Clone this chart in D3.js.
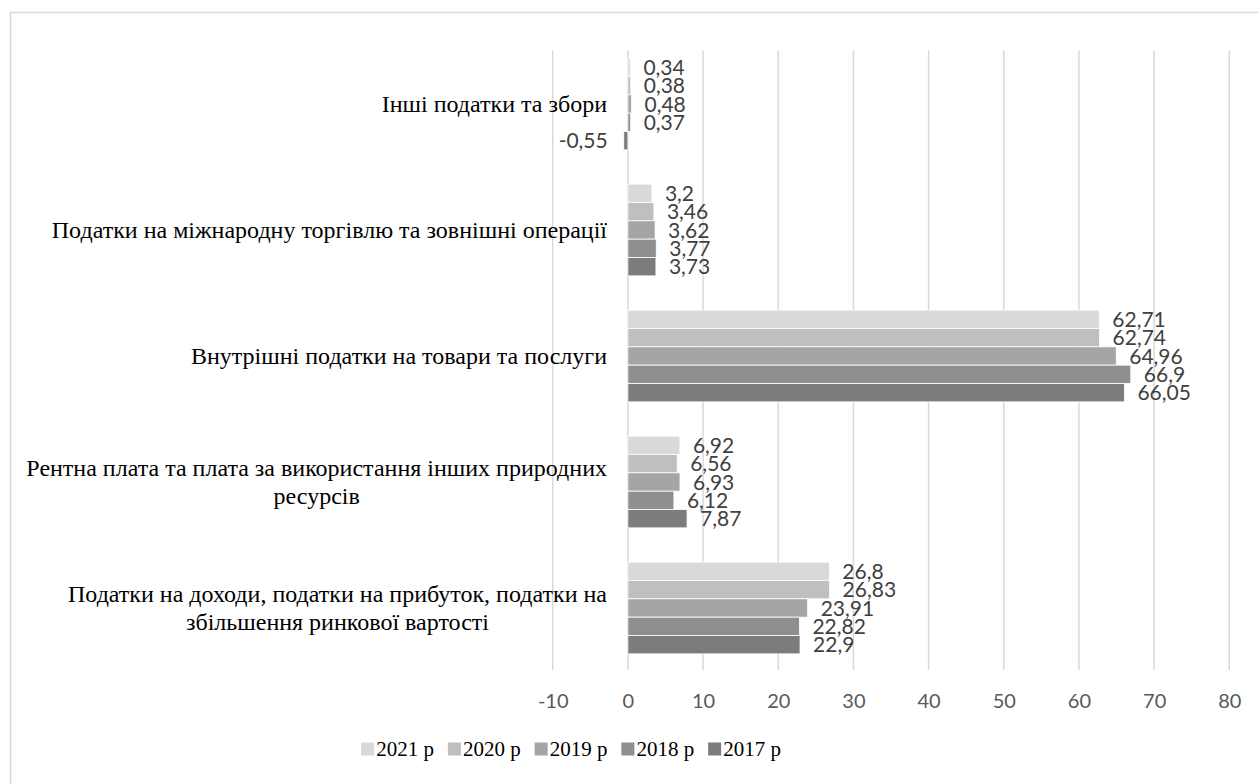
<!DOCTYPE html>
<html>
<head>
<meta charset="utf-8">
<script src="https://cdn.jsdelivr.net/npm/d3@7"></script>
<style>
  html, body { margin: 0; padding: 0; background: #fff; }
  svg { display: block; }
</style>
</head>
<body>
<svg id="chart" width="1258" height="784"></svg>
<script>
// Tax revenue structure, % — categories listed top to bottom
const categories = [
  "Інші податки та збори",
  "Податки на міжнародну торгівлю та зовнішні операції",
  "Внутрішні податки на товари та послуги",
  "Рентна плата та плата за використання інших природних\nресурсів",
  "Податки на доходи, податки на прибуток, податки на\nзбільшення ринкової вартості"
];
const years = ["2021 р", "2020 р", "2019 р", "2018 р", "2017 р"];
const v2021 = [0.34, 3.2, 62.71, 6.92, 26.8];
const v2020 = [0.38, 3.46, 62.74, 6.56, 26.83];
const v2019 = [0.48, 3.62, 64.96, 6.93, 23.91];
const v2018 = [0.37, 3.77, 66.9, 6.12, 22.82];
const v2017 = [-0.55, 3.73, 66.05, 7.87, 22.9];
const xTicks = [-10, 0, 10, 20, 30, 40, 50, 60, 70, 80];

const seriesValues = [v2021, v2020, v2019, v2018, v2017];
const colors = ["#d9d9d9", "#bfbfbf", "#a5a5a5", "#8f8f8f", "#7c7c7c"];

const svg = d3.select("#chart");

// chart frame
svg.append("rect")
  .attr("x", 10.5).attr("y", 12.5)
  .attr("width", 1400).attr("height", 900)
  .attr("fill", "none").attr("stroke", "#d9d9d9").attr("stroke-width", 1.5);

const x = d3.scaleLinear().domain([-10, 80]).range([552.7, 1229.3]);
const y = d3.scaleBand().domain(categories).range([41, 671])
  .paddingInner(0.272).paddingOuter(0.136);
const yInner = d3.scaleBand().domain(years).range([0, y.bandwidth()]);

const gridTop = 50.5, gridBottom = 670;

// vertical gridlines
svg.append("g").selectAll("line")
  .data(xTicks).join("line")
  .attr("x1", d => x(d)).attr("x2", d => x(d))
  .attr("y1", gridTop).attr("y2", gridBottom)
  .attr("stroke", "#d9d9d9").attr("stroke-width", 1.5);

// x axis tick labels
const xAxis = d3.axisBottom(x).tickValues(xTicks).tickSize(0).tickPadding(0)
  .tickFormat(d => String(d));
const gx = svg.append("g").attr("transform", `translate(0, ${gridBottom + 24})`).call(xAxis);
gx.select(".domain").remove();
gx.selectAll("text")
  .attr("font-family", "Lato, 'Open Sans', sans-serif")
  .attr("font-size", 20).attr("fill", "#595959")
  .attr("dy", "0.71em");

// bars
const rows = [];
seriesValues.forEach((vals, si) => {
  vals.forEach((v, ci) => rows.push({ cat: categories[ci], year: years[si], si, v }));
});

const bars = svg.append("g");
bars.selectAll("rect").data(rows).join("rect")
  .attr("x", d => x(Math.min(0, d.v)))
  .attr("width", d => Math.abs(x(d.v) - x(0)))
  .attr("y", d => y(d.cat) + yInner(d.year))
  .attr("height", yInner.bandwidth())
  .attr("fill", d => colors[d.si])
  .attr("stroke", "#fff").attr("stroke-width", 0.8);

// data labels
const fmt = v => String(v).replace(".", ",");
svg.append("g").selectAll("text").data(rows).join("text")
  .attr("x", d => d.v >= 0 ? x(d.v) + 13 : x(d.v) - 16)
  .attr("y", d => y(d.cat) + yInner(d.year) + yInner.bandwidth() / 2)
  .attr("dy", "0.36em")
  .attr("text-anchor", d => d.v >= 0 ? "start" : "end")
  .attr("font-family", "Lato, 'Open Sans', sans-serif")
  .attr("font-size", 21).attr("fill", "#404040")
  .text(d => fmt(d.v));

// category labels
const labelRight = 607;
const lineH = 27.5;
const catG = svg.append("g");
categories.forEach(c => {
  const lines = c.split("\n");
  const t = catG.append("text")
    .attr("font-family", "'Liberation Serif', 'Times New Roman', serif")
    .attr("font-size", 24).attr("fill", "#000");
  const cy = y(c) + y.bandwidth() / 2;
  const spans = lines.map((ln, i) => t.append("tspan")
    .attr("y", cy + (i - (lines.length - 1) / 2) * lineH)
    .attr("dy", "0.33em")
    .text(ln));
  if (lines.length === 1) {
    t.attr("text-anchor", "end");
    spans[0].attr("x", labelRight);
  } else {
    const w = d3.max(spans, s => s.node().getComputedTextLength());
    t.attr("text-anchor", "middle");
    spans.forEach(s => s.attr("x", labelRight - w / 2));
  }
});

// legend
const legendG = svg.append("g");
const legendY = 749;
const sw = 13, gapSwatch = 2, gapItem = 14;
let lx = 0;
years.forEach((yr, i) => {
  const g = legendG.append("g").attr("transform", `translate(${lx},0)`);
  g.append("rect").attr("x", 0).attr("y", legendY - sw / 2)
    .attr("width", sw).attr("height", sw).attr("fill", colors[i]);
  const t = g.append("text").attr("x", sw + gapSwatch).attr("y", legendY)
    .attr("dy", "0.33em")
    .attr("font-family", "'Liberation Serif', 'Times New Roman', serif")
    .attr("font-size", 21).attr("fill", "#000").text(yr);
  lx += sw + gapSwatch + t.node().getComputedTextLength() + gapItem;
});
const legendW = lx - gapItem;
legendG.attr("transform", `translate(${571 - legendW / 2},0)`);
</script>
</body>
</html>
